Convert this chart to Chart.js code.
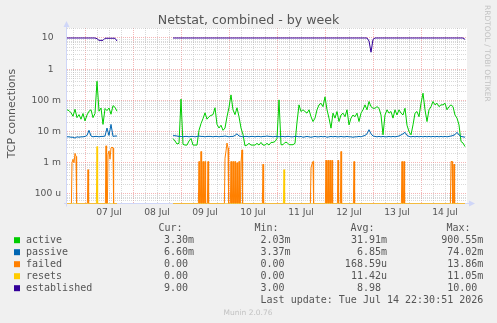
<!DOCTYPE html>
<html>
<head>
<meta charset="utf-8">
<title>Netstat, combined - by week</title>
<script src="https://cdn.jsdelivr.net/npm/chart.js@4.4.1/dist/chart.umd.min.js"></script>
<style>
  html, body { margin: 0; padding: 0; background: #f0f0f0; }
  canvas { display: block; }
</style>
</head>
<body>
<canvas id="netstat" width="497" height="323"></canvas>
<script>
// ---- data (hours relative to 07 Jul 00:00, one sample per hour) ----
const chartTitle = 'Netstat, combined - by week';
const yTitle = 'TCP connections';
const dayLabels = ['07 Jul', '08 Jul', '09 Jul', '10 Jul', '11 Jul', '12 Jul', '13 Jul', '14 Jul'];
const yTickLabels = ['100 u', '1 m', '10 m', '100 m', '1', '10']; // 1e-4 .. 1e1
const xMin = -9, xMax = 191;
const yMin = 4.96e-5, yMax = 20.9;

const segAStart = -9;  // first block of samples
const segBStart = 44;  // after the hole on 07/08 Jul

const activeA = [
  0.05, 0.047, 0.04, 0.031, 0.052, 0.028, 0.035, 0.025, 0.038, 0.022,
  0.034, 0.045, 0.05, 0.028, 0.038, 0.41, 0.045, 0.057, 0.017, 0.055,
  0.047, 0.057, 0.036, 0.068, 0.06, 0.045
];
const activeB = [
  0.006, 0.005, 0.004, 0.0042, 0.11, 0.0039, 0.0037, 0.0037, 0.005, 0.006,
  0.0037, 0.0037, 0.0037, 0.011, 0.018, 0.026, 0.04, 0.025, 0.03, 0.033,
  0.035, 0.058, 0.017, 0.013, 0.016, 0.011, 0.013, 0.03, 0.06, 0.15,
  0.05, 0.035, 0.058, 0.03, 0.013, 0.008, 0.0035, 0.0037, 0.0042, 0.0037,
  0.0037, 0.0037, 0.0042, 0.0037, 0.0045, 0.0037, 0.0037, 0.0042, 0.0037, 0.0045,
  0.0045, 0.0048, 0.006, 0.104, 0.0038, 0.0038, 0.0045, 0.0045, 0.0038, 0.0038,
  0.0038, 0.0042, 0.02, 0.072, 0.044, 0.05, 0.044, 0.039, 0.05, 0.03,
  0.021, 0.027, 0.05, 0.072, 0.081, 0.063, 0.13, 0.05, 0.027, 0.0129,
  0.039, 0.027, 0.044, 0.021, 0.034, 0.039, 0.03, 0.05, 0.0164, 0.027,
  0.034, 0.03, 0.039, 0.021, 0.039, 0.05, 0.072, 0.05, 0.092, 0.063,
  0.056, 0.056, 0.063, 0.056, 0.034, 0.0079, 0.034, 0.05, 0.039, 0.044,
  0.027, 0.05, 0.034, 0.05, 0.039, 0.034, 0.056, 0.016, 0.01, 0.0079,
  0.0164, 0.039, 0.044, 0.03, 0.081, 0.17, 0.05, 0.021, 0.05, 0.063,
  0.092, 0.072, 0.081, 0.063, 0.072, 0.072, 0.081, 0.05, 0.063, 0.072,
  0.063, 0.034, 0.027, 0.0164, 0.0048, 0.0043, 0.0033
];

const passiveA = [
  0.0068, 0.0068, 0.0066, 0.0066, 0.0062, 0.0068, 0.0066, 0.0068, 0.0068, 0.007,
  0.0075, 0.011, 0.0072, 0.0068, 0.007, 0.007, 0.0068, 0.007, 0.007, 0.0072,
  0.013, 0.0075, 0.017, 0.007, 0.0072, 0.0072
];
const passiveB = [
  0.0074, 0.0074, 0.0072, 0.007, 0.007, 0.0068, 0.007, 0.007, 0.0068, 0.007,
  0.007, 0.0068, 0.007, 0.0072, 0.007, 0.007, 0.0068, 0.007, 0.007, 0.007,
  0.0068, 0.007, 0.007, 0.0068, 0.007, 0.007, 0.0072, 0.007, 0.0068, 0.007,
  0.007, 0.0075, 0.0085, 0.0072, 0.007, 0.0068, 0.007, 0.007, 0.0068, 0.007,
  0.007, 0.0068, 0.007, 0.007, 0.0068, 0.007, 0.007, 0.0072, 0.007, 0.007,
  0.0068, 0.007, 0.007, 0.0068, 0.007, 0.007, 0.0068, 0.007, 0.007, 0.0068,
  0.0068, 0.007, 0.007, 0.0068, 0.007, 0.0066, 0.0068, 0.007, 0.0068, 0.0066,
  0.0068, 0.007, 0.0068, 0.0068, 0.007, 0.0068, 0.007, 0.0066, 0.0068, 0.007,
  0.0068, 0.007, 0.0068, 0.0068, 0.007, 0.0068, 0.0068, 0.007, 0.0068, 0.0068,
  0.0066, 0.0068, 0.0068, 0.007, 0.0068, 0.0072, 0.0075, 0.0085, 0.0115, 0.0085,
  0.0072, 0.007, 0.0068, 0.007, 0.0068, 0.007, 0.0068, 0.0068, 0.007, 0.0068,
  0.007, 0.0068, 0.007, 0.0072, 0.0078, 0.0085, 0.0095, 0.0075, 0.007, 0.0068,
  0.007, 0.0068, 0.007, 0.0068, 0.007, 0.0068, 0.007, 0.0068, 0.007, 0.0068,
  0.007, 0.0068, 0.007, 0.0068, 0.007, 0.0068, 0.007, 0.0068, 0.007, 0.0072,
  0.0075, 0.008, 0.0095, 0.0078, 0.007, 0.0068, 0.0066
];

const establishedA = [
  10, 10, 10, 10, 10, 10, 10, 10, 10, 10,
  10, 10, 10, 10, 10, 9.5, 8.4, 8.4, 8.4, 9.8,
  9.8, 9.8, 9.8, 9.8, 9.8, 8
];
const establishedB = [
  10, 10, 10, 10, 10, 10, 10, 10, 10, 10, 10, 10, 10, 10, 10, 10, 10, 10, 10, 10,
  10, 10, 10, 10, 10, 10, 10, 10, 10, 10, 10, 10, 10, 10, 10, 10, 10, 10, 10, 10,
  10, 10, 10, 10, 10, 10, 10, 10, 10, 10, 10, 10, 10, 10, 10, 10, 10, 10, 10, 10,
  10, 10, 10, 10, 10, 10, 10, 10, 10, 10, 10, 10, 10, 10, 10, 10, 10, 10, 10, 10,
  10, 10, 10, 10, 10, 10, 10, 10, 10, 10, 10, 10, 10, 10, 10, 10, 10, 10, 8, 3.5,
  9, 10, 10, 10, 10, 10, 10, 10, 10, 10, 10, 10, 10, 10, 10, 10, 10, 10, 10, 10,
  10, 10, 10, 10, 10, 10, 10, 10, 10, 10, 10, 10, 10, 10, 10, 10, 10, 10, 10, 10,
  10, 10, 10, 10, 10, 10, 9
];

// failed / resets are 0 except at these readings (hours)
const failedHours = [
  -6.5, -6, -5.5, -5, -4.5, 1.5, 10.5, 11.5, 12, 12.5, 13, 13.5, 14,
  57, 58, 59, 60, 61.5, 70, 70.5, 71, 71.5, 73, 74, 75, 76, 77, 78, 78.5,
  89, 113, 113.5, 114, 120.5, 121.5, 122.5, 123.5, 126.5, 128, 134.5,
  158.5, 159.5, 183, 183.5, 184.5
];
const failedValues = [
  0.001, 0.0013, 0.001, 0.002, 0.0016, 0.0006, 0.0035, 0.0018, 0.0024, 0.0013, 0.003, 0.0032, 0.003,
  0.0011, 0.0023, 0.0011, 0.0011, 0.0011, 0.0014, 0.0024, 0.0043, 0.003, 0.0011, 0.0011, 0.0011, 0.001, 0.0011, 0.001, 0.0026,
  0.0009, 0.0007, 0.0009, 0.0011, 0.0012, 0.0012, 0.0012, 0.0012, 0.0012, 0.0023, 0.0011,
  0.0011, 0.0011, 0.0011, 0.0011, 0.0009
];
const resetsHours = [6, 99.5];
const resetsValues = [0.0033, 0.0006];

// legend
const seriesNames = ['active', 'passive', 'failed', 'resets', 'established'];
const seriesColors = ['#00cc00', '#0066b3', '#ff8000', '#ffcc00', '#330099'];
const curText = ['3.30m', '6.60m', '0.00 ', '0.00 ', '9.00 '];
const minText = ['2.03m', '3.37m', '0.00 ', '0.00 ', '3.00 '];
const avgText = ['31.91m', '6.85m', '168.59u', '11.42u', '8.98 '];
const maxText = ['900.55m', '74.02m', '13.86m', '11.05m', '10.00 '];
const lastUpdate = 'Last update: Tue Jul 14 22:30:51 2026';

// ---- helpers ----
const segAEnd = segAStart + activeA.length - 1;
const segBEnd = segBStart + activeB.length - 1;

function twoBlocks(a, b) {
  const pts = a.map((v, i) => ({ x: segAStart + i, y: v }));
  pts.push({ x: (segAEnd + segBStart) / 2, y: null });
  b.forEach((v, i) => pts.push({ x: segBStart + i, y: v }));
  return pts;
}

// a log axis has no 0, so zero samples sit on the axis floor like rrdtool does
function spikes(hours, values) {
  const pts = [];
  const zero = yMin;
  const half = 0.3;
  [[segAStart, segAEnd], [segBStart, segBEnd]].forEach(([s, e], k) => {
    if (k) pts.push({ x: (segAEnd + segBStart) / 2, y: null });
    pts.push({ x: s, y: zero });
    hours.forEach((h, i) => {
      if (h < s || h > e) return;
      if (!hours.includes(h - 0.5)) pts.push({ x: h - half, y: zero });
      pts.push({ x: h, y: values[i] });
      if (!hours.includes(h + 0.5)) pts.push({ x: h + half, y: zero });
    });
    pts.push({ x: e, y: zero });
  });
  return pts;
}

function isDecade(v) {
  const e = Math.log10(v);
  return Math.abs(e - Math.round(e)) < 1e-6;
}

const MAJOR = 'rgba(235, 110, 110, 0.5)';
const MINOR = 'rgba(170, 170, 170, 0.45)';
const FONT = '"DejaVu Sans"';

const munin = {
  id: 'munin',
  beforeDraw(chart) {
    const { ctx, chartArea: a } = chart;
    ctx.save();
    ctx.fillStyle = '#f0f0f0';
    ctx.fillRect(0, 0, chart.width, chart.height);
    ctx.fillStyle = '#ffffff';
    ctx.fillRect(a.left, a.top, a.right - a.left, a.bottom - a.top);
    ctx.restore();
  },
  beforeDatasetsDraw(chart) {
    const { ctx, chartArea: a } = chart;
    ctx.save();
    ctx.strokeStyle = '#cfd6f8';
    ctx.fillStyle = '#cfd6f8';
    ctx.lineWidth = 1;
    ctx.beginPath();
    ctx.moveTo(a.left - 3, a.bottom);
    ctx.lineTo(a.right + 4, a.bottom);
    ctx.moveTo(a.left - 0.5, a.bottom + 3);
    ctx.lineTo(a.left - 0.5, a.top - 3);
    ctx.stroke();
    ctx.beginPath();
    ctx.moveTo(a.right + 8, a.bottom);
    ctx.lineTo(a.right + 2, a.bottom - 3);
    ctx.lineTo(a.right + 2, a.bottom + 3);
    ctx.fill();
    ctx.beginPath();
    ctx.moveTo(a.left - 0.5, a.top - 7);
    ctx.lineTo(a.left - 3.5, a.top - 1);
    ctx.lineTo(a.left + 2.5, a.top - 1);
    ctx.fill();
    ctx.restore();
  },
  afterDraw(chart) {
    const { ctx } = chart;
    ctx.save();
    ctx.fillStyle = '#555';
    ctx.textBaseline = 'alphabetic';

    ctx.font = '12.6px ' + FONT;
    ctx.textAlign = 'center';
    ctx.fillText(chartTitle, 248.5, 24);

    ctx.save();
    ctx.translate(15, 113.5);
    ctx.rotate(-Math.PI / 2);
    ctx.font = '10.9px ' + FONT;
    ctx.fillText(yTitle, 0, 0);
    ctx.restore();

    // legend
    ctx.font = '10px "DejaVu Sans Mono"';
    ctx.textAlign = 'left';
    ['Cur:', 'Min:', 'Avg:', 'Max:'].forEach((h, k) => ctx.fillText(h, 158.4 + 96 * k, 231.2));
    const cols = [curText, minText, avgText, maxText];
    const colRight = [194, 290.5, 387, 483.3];
    seriesNames.forEach((name, i) => {
      const y = 243.2 + 12 * i;
      ctx.fillStyle = seriesColors[i];
      ctx.fillRect(14, y - 6, 6, 6);
      ctx.fillStyle = '#555';
      ctx.textAlign = 'left';
      ctx.fillText(name, 26, y);
      ctx.textAlign = 'right';
      cols.forEach((c, k) => ctx.fillText(c[i], colRight[k], y));
    });
    ctx.textAlign = 'right';
    ctx.fillText(lastUpdate, 483.3, 303.2);

    ctx.fillStyle = '#c2c2c2';
    ctx.font = '7.5px ' + FONT;
    ctx.textAlign = 'center';
    ctx.fillText('Munin 2.0.76', 248, 315);

    ctx.translate(485, 5);
    ctx.rotate(Math.PI / 2);
    ctx.textAlign = 'left';
    ctx.fillText('RRDTOOL / TOBI OETIKER', 0, 0);
    ctx.restore();
  }
};

const line = (label, data, color, order) => ({
  label, data, order,
  borderColor: color,
  borderWidth: 1,
  pointRadius: 0,
  tension: 0,
  fill: false,
  spanGaps: false
});

new Chart(document.getElementById('netstat'), {
  type: 'line',
  data: {
    datasets: [
      line('active', twoBlocks(activeA, activeB), seriesColors[0], 5),
      line('passive', twoBlocks(passiveA, passiveB), seriesColors[1], 4),
      line('failed', spikes(failedHours, failedValues), seriesColors[2], 3),
      line('resets', spikes(resetsHours, resetsValues), seriesColors[3], 2),
      line('established', twoBlocks(establishedA, establishedB), seriesColors[4], 1)
    ]
  },
  options: {
    responsive: false,
    animation: false,
    devicePixelRatio: 1,
    layout: { padding: { left: 0, top: 28, right: 30, bottom: 0 } },
    plugins: { legend: { display: false }, title: { display: false }, tooltip: { enabled: false } },
    scales: {
      x: {
        type: 'linear',
        min: xMin,
        max: xMax,
        afterFit(scale) { scale.height = 119.5; },
        afterBuildTicks(scale) {
          const t = [];
          for (let h = Math.ceil(scale.min / 6) * 6; h <= scale.max; h += 6) t.push({ value: h });
          scale.ticks = t;
        },
        grid: {
          drawTicks: false,
          color: (c) => (c.tick && c.tick.value % 24 === 0 ? MAJOR : MINOR)
        },
        border: { display: false, dash: [1, 1] },
        ticks: {
          autoSkip: false,
          maxRotation: 0,
          padding: 4,
          color: '#555',
          font: { family: 'DejaVu Sans', size: 9.2 },
          callback: (v) => (((v % 24) + 24) % 24 === 12 ? dayLabels[(v - 12) / 24] : '')
        }
      },
      y: {
        type: 'logarithmic',
        min: yMin,
        max: yMax,
        afterFit(scale) { scale.width = 67; },
        afterBuildTicks(scale) {
          const t = [];
          for (let e = -5; e <= 1; e++) {
            for (let m = 1; m < 10; m++) {
              const v = m * Math.pow(10, e);
              if (v >= scale.min && v <= scale.max) t.push({ value: v });
            }
          }
          scale.ticks = t;
        },
        grid: {
          drawTicks: false,
          color: (c) => (c.tick && isDecade(c.tick.value) ? MAJOR : MINOR)
        },
        border: { display: false, dash: [1, 1] },
        ticks: {
          autoSkip: false,
          padding: 6,
          color: '#555',
          font: { family: 'DejaVu Sans', size: 9.2 },
          callback: (v) => {
            if (!isDecade(v)) return '';
            const s = yTickLabels[Math.round(Math.log10(v)) + 4];
            return s.indexOf(' ') > 0 ? s : s + ' \u2002';
          }
        }
      }
    }
  },
  plugins: [munin]
});
</script>
</body>
</html>
